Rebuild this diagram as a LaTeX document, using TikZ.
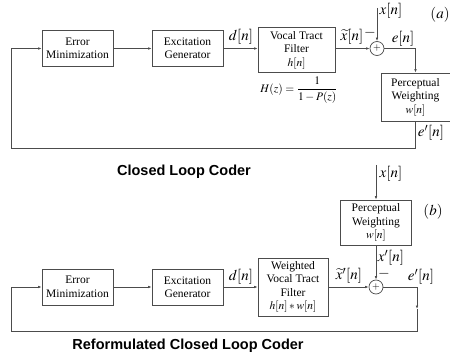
\documentclass[tikz,border=0pt]{standalone}
\usepackage{amsmath}
\usepackage{mathptmx}
\usepackage{fontspec}
\setmainfont{Liberation Serif}
\setsansfont{Liberation Sans}
\usetikzlibrary{positioning,calc,arrows.meta}

\begin{document}
\begin{tikzpicture}[x=1pt,y=-1pt,
    blk/.style={draw=black!70,line width=0.7pt,align=center,inner sep=0pt,
        font=\fontsize{11.5}{13.5}\selectfont},
    sig/.style={draw=black!70,line width=0.7pt},
    arr/.style={sig,-{Latex[length=3.5pt,width=2.6pt]}},
    lbl/.style={inner sep=0pt,font=\fontsize{15}{17}\selectfont},
    ttl/.style={inner sep=0pt,font=\sffamily\bfseries\fontsize{14.5}{16}\selectfont}]
    \useasboundingbox (0,0) rectangle (450,358);

    % Closed loop coder (a)
    \node [blk,minimum width=77pt,minimum height=45pt] (vtfA) at (296.5,50) {Vocal Tract\\Filter\\$h[n]$};
    \node [blk,minimum width=71pt,minimum height=36pt] (errA) at (77.5,48.5) {Error\\Minimization};
    \node [blk,minimum width=71pt,minimum height=36pt] (excA) at (187.5,48.5) {Excitation\\Generator};
    \node [sig,circle,minimum size=14pt,inner sep=0pt] (sumA) at (377,48.5) {$+$};
    \node [blk,minimum width=69pt,minimum height=48pt] (pwA) at (415.5,97) {Perceptual\\Weighting\\$w[n]$};
    \coordinate (inA) at (377,8);
    \coordinate (fbA) at (11,148);

    \draw [arr] (errA) -- (excA);
    \draw [arr] (excA.east) -- (excA.east -| vtfA.west);
    \draw [arr] (vtfA.east |- sumA) -- (sumA);
    \draw [arr] (inA) -- (sumA);
    \draw [arr] (sumA.east) -| (pwA.north);
    \draw [arr] (pwA.south) |- (fbA) |- (errA.west);

    \node [lbl] (dA) at (241,37) {$d[n]$};
    \node [lbl] (xtA) at (352,37) {$\widetilde{x}[n]$};
    \node [lbl] (xA) at (391,11) {$x[n]$};
    \node [lbl] (mA) at (370,33) {$-$};
    \node [lbl] (eA) at (403,39) {$e[n]$};
    \node [lbl] (epA) at (431,133) {$e'[n]$};
    \node [lbl] (tagA) at (440,15) {$(a)$};
    \node [inner sep=0pt,font=\fontsize{11.5}{13}\selectfont] (HA) at (299,90)
        {$H(z)=\dfrac{1}{1-P(z)}$};
    \node [ttl] (ttlA) at (184,172) {Closed Loop Coder};

    % Reformulated closed loop coder (b)
    \node [blk,minimum width=71pt,minimum height=36pt] (errB) at (77.5,287) {Error\\Minimization};
    \node [blk,minimum width=71pt,minimum height=36pt] (excB) at (187.5,287) {Excitation\\Generator};
    \node [blk,minimum width=70pt,minimum height=58pt] (vtfB) at (293,287) {Weighted\\Vocal Tract\\Filter\\$h[n]*w[n]$};
    \node [sig,circle,minimum size=14pt,inner sep=0pt] (sumB) at (376,287) {$+$};
    \node [blk,minimum width=71pt,minimum height=45pt] (pwB) at (376,222.5) {Perceptual\\Weighting\\$w[n]$};
    \coordinate (inB) at (376,165);
    \coordinate (midB) at (417,309);
    \coordinate (fbB) at (11,331);

    \draw [arr] (errB) -- (excB);
    \draw [arr] (excB) -- (vtfB);
    \draw [arr] (vtfB) -- (sumB);
    \draw [arr] (inB) -- (pwB);
    \draw [arr] (pwB) -- (sumB);
    \draw [arr] (sumB.east) -| (midB);
    \draw [arr] (midB) |- (fbB) |- (errB.west);

    \node [lbl] (dB) at (241,277) {$d[n]$};
    \node [lbl] (xtB) at (349,276) {$\widetilde{x}'[n]$};
    \node [lbl] (xB) at (391,174) {$x[n]$};
    \node [lbl] (xpB) at (391,258) {$x'[n]$};
    \node [lbl] (mB) at (384,274) {$-$};
    \node [lbl] (eB) at (421,277) {$e'[n]$};
    \node [lbl] (tagB) at (433,212) {$(b)$};
    \node [ttl] (ttlB) at (188,346) {Reformulated Closed Loop Coder};
\end{tikzpicture}
\end{document}
